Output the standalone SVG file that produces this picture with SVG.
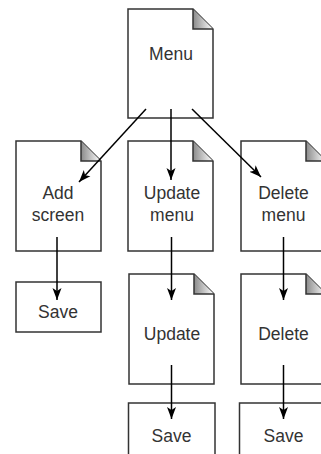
<svg xmlns="http://www.w3.org/2000/svg" width="321" height="454" viewBox="0 0 321 454">
<defs>
<linearGradient id="fold" x1="0" y1="0" x2="1" y2="0">
<stop offset="0" stop-color="#8a8a8a"/>
<stop offset="1" stop-color="#ffffff"/>
</linearGradient>
<marker id="ah" markerUnits="userSpaceOnUse" markerWidth="13" markerHeight="10" refX="12" refY="5" orient="auto">
<path d="M0,0.5 L12,5 L0,9.5 L3,5 Z" fill="#000"/>
</marker>
<style>
.box{fill:#fff;stroke:#333;stroke-width:1.5}
.fl{fill:url(#fold);stroke:none}
.fe{fill:none;stroke:#333;stroke-width:1.5}
.t{font-family:"Liberation Sans",Arial,sans-serif;font-size:17.5px;fill:#333;text-anchor:middle}
.c{stroke:#000;stroke-width:1.5;fill:none;marker-end:url(#ah)}
</style>
</defs>
<g id="menu">
<path class="box" d="M128,9 H193 L213,29 V118 H128 Z"/>
<path class="fl" d="M193,9 L193,29 L213,29 Z"/>
<path class="fe" d="M193,9 V29 H213"/>
<text class="t" x="171" y="60">Menu</text>
</g>
<g id="add-screen">
<path class="box" d="M16,141 H81 L101,161 V251 H16 Z"/>
<path class="fl" d="M81,141 L81,161 L101,161 Z"/>
<path class="fe" d="M81,141 V161 H101"/>
<text class="t" x="58" y="199">Add</text>
<text class="t" x="58" y="221">screen</text>
</g>
<g id="update-menu">
<path class="box" d="M128,141 H193 L213,161 V251 H128 Z"/>
<path class="fl" d="M193,141 L193,161 L213,161 Z"/>
<path class="fe" d="M193,141 V161 H213"/>
<text class="t" x="172" y="199">Update</text>
<text class="t" x="172" y="221">menu</text>
</g>
<g id="delete-menu">
<path class="box" d="M241,141 H306 L326,161 V251 H241 Z"/>
<path class="fl" d="M306,141 L306,161 L326,161 Z"/>
<path class="fe" d="M306,141 V161 H326"/>
<text class="t" x="283.5" y="199">Delete</text>
<text class="t" x="283.5" y="221">menu</text>
</g>
<g id="save-add">
<rect class="box" x="16" y="282" width="85" height="50"/>
<text class="t" x="58" y="318">Save</text>
</g>
<g id="update">
<path class="box" d="M129,274 H194 L214,294 V384 H129 Z"/>
<path class="fl" d="M194,274 L194,294 L214,294 Z"/>
<path class="fe" d="M194,274 V294 H214"/>
<text class="t" x="172" y="340">Update</text>
</g>
<g id="delete">
<path class="box" d="M241,274 H306 L326,294 V384 H241 Z"/>
<path class="fl" d="M306,274 L306,294 L326,294 Z"/>
<path class="fe" d="M306,274 V294 H326"/>
<text class="t" x="283.5" y="340">Delete</text>
</g>
<g id="save-update">
<rect class="box" x="128.5" y="403" width="86.5" height="70"/>
<text class="t" x="171.5" y="442">Save</text>
</g>
<g id="save-delete">
<rect class="box" x="239.5" y="403" width="87" height="70"/>
<text class="t" x="283.5" y="442">Save</text>
</g>
<g id="connectors">
<line class="c" x1="146" y1="109" x2="79" y2="182"/>
<line class="c" x1="171" y1="109" x2="171" y2="180"/>
<line class="c" x1="192" y1="109" x2="261" y2="177"/>
<line class="c" x1="57" y1="237" x2="57" y2="300"/>
<line class="c" x1="171.5" y1="237" x2="171.5" y2="300"/>
<line class="c" x1="283.5" y1="237" x2="283.5" y2="300"/>
<line class="c" x1="171.5" y1="365" x2="171.5" y2="419"/>
<line class="c" x1="283.5" y1="365" x2="283.5" y2="419"/>
</g>
</svg>
